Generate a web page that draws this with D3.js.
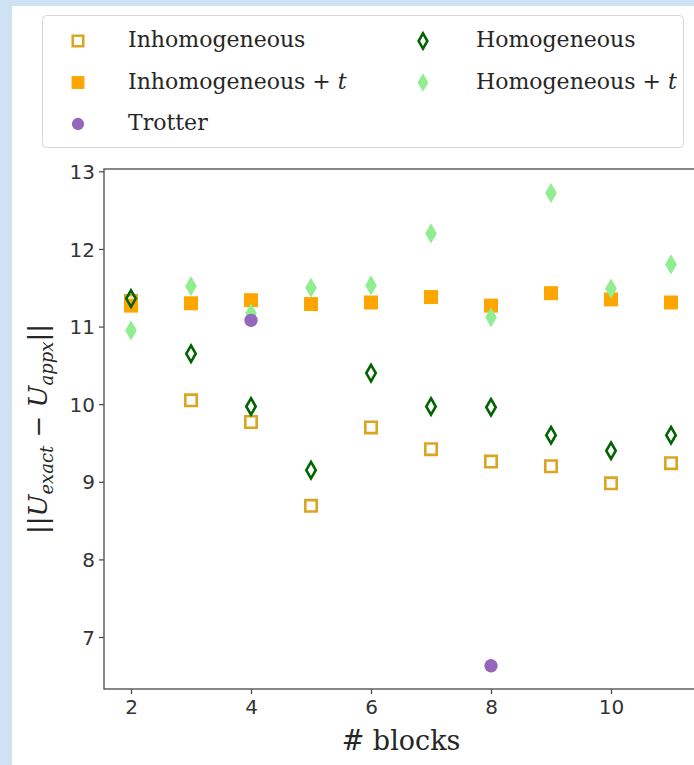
<!DOCTYPE html>
<html lang="en">
<head>
    <meta charset="UTF-8">
    <title>blocks scatter</title>
    <script src="https://cdn.jsdelivr.net/npm/d3@7/dist/d3.min.js"></script>
    <style>
        html, body {
            margin: 0;
            padding: 0;
            background: #cfe2f3;
        }
        svg {
            display: block;
        }
        .tick text {
            font-family: "DejaVu Sans", sans-serif;
            font-size: 20px;
            fill: #333;
        }
        .serif {
            font-family: "DejaVu Serif", serif;
            fill: #262626;
        }
    </style>
</head>
<body>
<script>
    // canvas size
    const width = 694;
    const height = 765;

    // data
    const blocks = [2, 3, 4, 5, 6, 7, 8, 9, 10, 11];
    const inhomogeneous = [11.33, 10.05, 9.77, 8.69, 9.70, 9.42, 9.26, 9.20, 8.98, 9.24];
    const inhomogeneousT = [11.27, 11.30, 11.34, 11.29, 11.31, 11.38, 11.27, 11.43, 11.35, 11.31];
    const homogeneous = [11.36, 10.65, 9.97, 9.15, 10.40, 9.97, 9.96, 9.60, 9.40, 9.60];
    const homogeneousT = [10.95, 11.52, 11.17, 11.50, 11.53, 12.20, 11.12, 12.72, 11.49, 11.80];
    const trotterBlocks = [4, 8];
    const trotter = [11.08, 6.63];

    const xTicks = [2, 4, 6, 8, 10];
    const yTicks = [7, 8, 9, 10, 11, 12, 13];

    // plot area
    const plot = { left: 104, right: 698, top: 169, bottom: 689 };

    let svg = d3.select('body')
        .append('svg')
        .attr('width', width)
        .attr('height', height);

    // white panel over the blue page
    svg.append('rect')
        .attr('x', 12)
        .attr('y', 6)
        .attr('width', width - 12)
        .attr('height', height - 6)
        .attr('fill', '#fff');

    let x = d3.scaleLinear().domain([1.55, 11.45]).range([plot.left, plot.right]);
    let y = d3.scaleLinear().domain([6.33, 13.03]).range([plot.bottom, plot.top]);

    // series styles
    const series = [
        { name: 'Inhomogeneous', xs: blocks, ys: inhomogeneous, type: d3.symbolSquare, size: 130, fill: 'none', stroke: '#daa520', sw: 2.6 },
        { name: 'Inhomogeneous', t: true, xs: blocks, ys: inhomogeneousT, type: d3.symbolSquare, size: 196, fill: '#ffa500', stroke: 'none', sw: 0 },
        { name: 'Homogeneous', xs: blocks, ys: homogeneous, type: d3.symbolDiamond, size: 78, fill: 'none', stroke: '#006400', sw: 2.6 },
        { name: 'Homogeneous', t: true, xs: blocks, ys: homogeneousT, type: d3.symbolDiamond, size: 118, fill: '#90ee90', stroke: 'none', sw: 0 },
        { name: 'Trotter', xs: trotterBlocks, ys: trotter, type: d3.symbolCircle, size: 140, fill: '#9467bd', stroke: 'none', sw: 0 }
    ];

    // axes
    let xAxis = svg.append('g')
        .attr('transform', `translate(0,${plot.bottom})`)
        .call(d3.axisBottom(x).tickValues(xTicks).tickSize(5).tickPadding(4).tickFormat(d3.format('d')));

    let yAxis = svg.append('g')
        .attr('transform', `translate(${plot.left},0)`)
        .call(d3.axisLeft(y).tickValues(yTicks).tickSize(5).tickPadding(4).tickFormat(d3.format('d')));

    [xAxis, yAxis].forEach(g => {
        g.select('.domain').remove();
        g.selectAll('.tick line').attr('stroke', '#444').attr('stroke-width', 1.2);
    });
    xAxis.selectAll('.tick text').attr('dy', '0.8em');
    yAxis.selectAll('.tick text').attr('dy', '0.36em');

    // spines
    svg.append('rect')
        .attr('x', plot.left)
        .attr('y', plot.top)
        .attr('width', plot.right - plot.left)
        .attr('height', plot.bottom - plot.top)
        .attr('fill', 'none')
        .attr('stroke', '#555')
        .attr('stroke-width', 1.4);

    // points
    let symbol = d3.symbol();
    series.forEach(s => {
        svg.append('g')
            .selectAll('path')
            .data(s.xs.map((b, i) => [b, s.ys[i]]))
            .enter()
            .append('path')
            .attr('transform', d => `translate(${x(d[0])},${y(d[1])})`)
            .attr('d', symbol.type(s.type).size(s.size)())
            .attr('fill', s.fill)
            .attr('stroke', s.stroke)
            .attr('stroke-width', s.sw);
    });

    // axis labels
    svg.append('text')
        .attr('class', 'serif')
        .attr('x', (plot.left + plot.right) / 2)
        .attr('y', 750)
        .attr('text-anchor', 'middle')
        .style('font-size', '27px')
        .text('# blocks');

    let yl = svg.append('text')
        .attr('class', 'serif')
        .attr('transform', `translate(47,${(plot.top + plot.bottom) / 2}) rotate(-90)`)
        .attr('text-anchor', 'middle')
        .style('font-size', '26px');
    yl.append('tspan').text('||');
    yl.append('tspan').style('font-style', 'italic').text('U');
    yl.append('tspan').style('font-style', 'italic').style('font-size', '18px').attr('dy', 6).text('exact');
    yl.append('tspan').attr('dy', -6).text(' \u2212 ');
    yl.append('tspan').style('font-style', 'italic').text('U');
    yl.append('tspan').style('font-style', 'italic').style('font-size', '18px').attr('dy', 6).text('appx');
    yl.append('tspan').attr('dy', -6).text('||');

    // legend
    let legend = svg.append('g');
    legend.append('rect')
        .attr('x', 42.5)
        .attr('y', 15.5)
        .attr('width', 641)
        .attr('height', 132)
        .attr('rx', 4)
        .attr('fill', '#fff')
        .attr('stroke', '#d6d6d6')
        .attr('stroke-width', 1);

    // matplotlib fills columns first
    const legendOrder = [0, 1, 4, 2, 3];
    legendOrder.forEach((si, k) => {
        let s = series[si];
        let col = k < 3 ? 0 : 1;
        let row = k < 3 ? k : k - 3;
        let mx = col === 0 ? 78 : 423;
        let tx = col === 0 ? 128 : 476;
        let ty = 47 + row * 41.5;

        legend.append('path')
            .attr('transform', `translate(${mx},${ty - 6})`)
            .attr('d', symbol.type(s.type).size(s.size * 0.85)())
            .attr('fill', s.fill)
            .attr('stroke', s.stroke)
            .attr('stroke-width', s.sw);

        let lt = legend.append('text')
            .attr('class', 'serif')
            .attr('x', tx)
            .attr('y', ty)
            .style('font-size', '22px')
            .text(s.name);
        if (s.t) {
            lt.append('tspan').text(' + ');
            lt.append('tspan').style('font-style', 'italic').text('t');
        }
    });
</script>
</body>
</html>
